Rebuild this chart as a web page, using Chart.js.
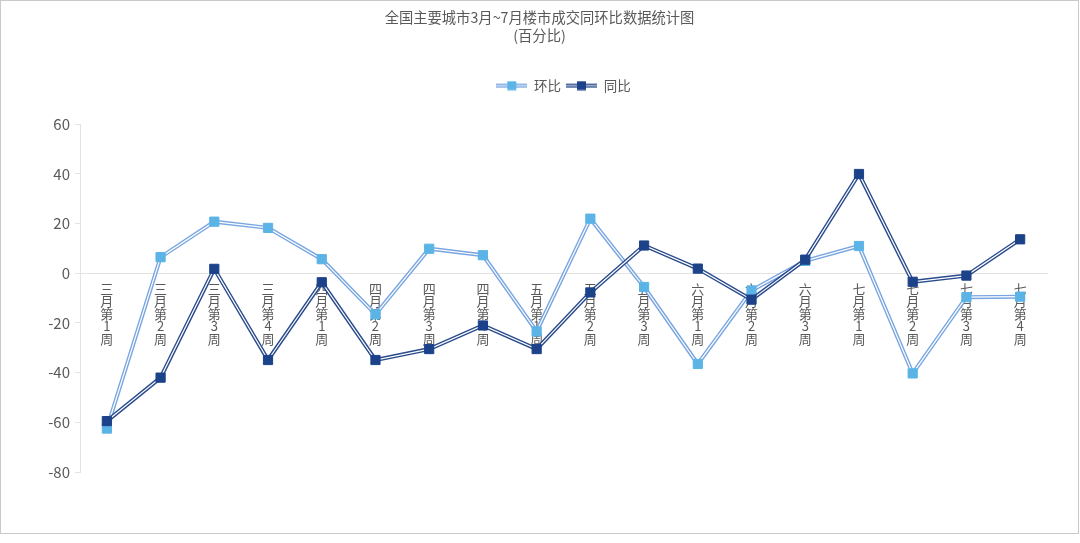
<!DOCTYPE html>
<html>
<head>
<meta charset="utf-8">
<script src="https://cdn.jsdelivr.net/npm/chart.js@4.4.0/dist/chart.umd.min.js"></script>
<style>
    html, body { margin: 0; padding: 0; background: #ffffff; }
    #chart-container { position: absolute; left: 0; top: 0; width: 1077px; height: 532px; border: 1px solid #c9c9c9; background: #ffffff; }
</style>
</head>
<body>
<div id="chart-container"><canvas id="myChart"></canvas></div>
<script>
var weeks = ['三月第1周', '三月第2周', '三月第3周', '三月第4周', '四月第1周', '四月第2周', '四月第3周', '四月第4周',
    '五月第1周', '五月第2周', '五月第3周', '六月第1周', '六月第2周', '六月第3周', '七月第1周', '七月第2周', '七月第3周', '七月第4周'];
var huanbi = [-62.5, 6.5, 20.8, 18.3, 5.7, -16.5, 9.9, 7.3, -23.4, 22, -5.5, -36.5, -6.9, 5, 11, -40.3, -9.6, -9.4];
var tongbi = [-59.5, -42, 1.8, -34.9, -3.6, -34.9, -30.5, -21, -30.5, -7.7, 11.2, 1.9, -10.6, 5.5, 40, -3.4, -0.9, 13.7];
var seriesNames = ['环比', '同比'];
var yMin = -80;
var yMax = 60;
var yStep = 20;
var titleLines = ['全国主要城市3月~7月楼市成交同环比数据统计图', '(百分比)'];

var lightLine = '#79a6e0';
var lightMark = '#5bb4e5';
var darkLine = '#2a4b8c';
var darkMark = '#1c428a';
var textColor = '#595959';
var axisColor = '#e3e3e3';
var fontName = '"Noto Sans CJK SC", "Noto Sans", sans-serif';

// vertical labels: one character per line
var weekLabels = [];
for (var i = 0; i < weeks.length; i++) {
    weekLabels[i] = weeks[i].split('');
}

// small legend icon: double line with a square in the middle
function legendIcon(lineColor, markColor) {
    var c = document.createElement('canvas');
    c.width = 31;
    c.height = 10;
    var g = c.getContext('2d');
    g.fillStyle = lineColor;
    g.fillRect(0, 3, 31, 4);
    g.fillStyle = '#ffffff';
    g.fillRect(0, 4.5, 31, 1);
    g.fillStyle = markColor;
    g.fillRect(11, 0.5, 9, 9);
    return c;
}
var icons = [legendIcon(lightLine, lightMark), legendIcon(darkLine, darkMark)];

function thickLine(data, color, order) {
    return { data: data, borderColor: color, borderWidth: 4, pointRadius: 0, fill: false, tension: 0, order: order };
}
function innerLine(data, order) {
    return { data: data, borderColor: '#ffffff', borderWidth: 1.2, pointRadius: 0, fill: false, tension: 0, order: order };
}
function marks(data, color, order) {
    return { data: data, showLine: false, pointStyle: 'rect', pointRadius: 6.5, pointBackgroundColor: color,
        pointBorderColor: color, pointBorderWidth: 1, order: order };
}

var ctx = document.getElementById('myChart');
var myChart = new Chart(ctx, {
    type: 'line',
    data: {
        labels: weekLabels,
        datasets: [
            marks(tongbi, darkMark, 0),
            innerLine(tongbi, 1),
            thickLine(tongbi, darkLine, 2),
            marks(huanbi, lightMark, 3),
            innerLine(huanbi, 4),
            thickLine(huanbi, lightLine, 5)
        ]
    },
    options: {
        responsive: true,
        maintainAspectRatio: false,
        animation: false,
        layout: { padding: { left: 0, right: 0, top: 0, bottom: 61 } },
        plugins: {
            tooltip: { enabled: false },
            title: {
                display: true,
                text: titleLines,
                color: textColor,
                font: { family: fontName, size: 14.3, weight: 'normal', lineHeight: 1.27 },
                padding: { top: 7.5, bottom: 29 }
            },
            // empty spacer between legend and plot
            subtitle: {
                display: true,
                text: '',
                weight: 500,
                font: { size: 22, lineHeight: 1 },
                padding: 0
            },
            legend: {
                display: true,
                position: 'top',
                fullSize: false,
                labels: {
                    usePointStyle: true,
                    pointStyleWidth: 31,
                    padding: 5,
                    color: textColor,
                    font: { family: fontName, size: 13.5 },
                    generateLabels: function (chart) {
                        return [
                            { text: seriesNames[0], pointStyle: icons[0], fillStyle: lightMark, strokeStyle: lightMark, lineWidth: 0, hidden: false, datasetIndex: 3, fontColor: textColor },
                            { text: seriesNames[1], pointStyle: icons[1], fillStyle: darkMark, strokeStyle: darkMark, lineWidth: 0, hidden: false, datasetIndex: 0, fontColor: textColor }
                        ];
                    }
                }
            }
        },
        scales: {
            x: {
                position: { y: 0 },
                offset: true,
                grid: { display: false, drawTicks: false },
                border: { display: true, color: axisColor, width: 1 },
                ticks: {
                    color: textColor,
                    font: { family: fontName, size: 13, lineHeight: 0.96 },
                    padding: 9.5,
                    maxRotation: 0,
                    minRotation: 0,
                    autoSkip: false
                },
                afterFit: function (scale) {
                    scale.height = 0;
                    scale.paddingRight = 31;
                }
            },
            y: {
                min: yMin,
                max: yMax,
                grid: { drawOnChartArea: false, drawTicks: true, tickLength: 5, color: axisColor },
                border: { display: true, color: axisColor, width: 1 },
                ticks: {
                    stepSize: yStep,
                    color: textColor,
                    font: { family: fontName, size: 15 },
                    padding: 5
                },
                afterFit: function (scale) {
                    scale.width = 79;
                }
            }
        }
    }
});
</script>
</body>
</html>
